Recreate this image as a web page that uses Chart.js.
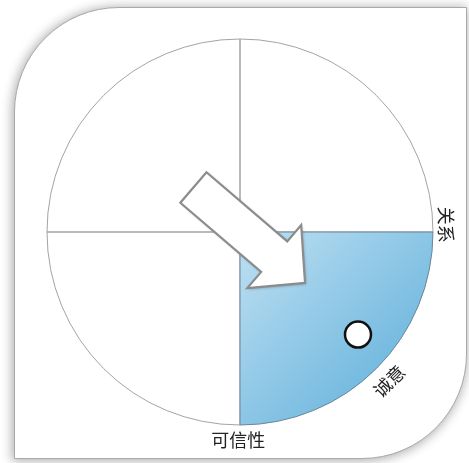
<!DOCTYPE html>
<html lang="zh">
<head>
  <meta charset="UTF-8">
  <title>关系 诚意 可信性</title>
  <script src="https://cdn.jsdelivr.net/npm/chart.js"></script>
  <style>
    body {
      margin: 0;
      background: #ffffff;
      font-family: 'Noto Sans CJK SC', sans-serif;
    }
    .card {
      position: absolute;
      left: 14px;
      top: 7px;
      width: 451px;
      height: 450px;
      background: #fff;
      border: 1px solid #a9a9a9;
      border-radius: 105px 0 105px 0;
      box-shadow: -1px 1px 11px 1px rgba(0, 0, 0, 0.32);
    }
    .wrap {
      position: absolute;
      left: 0;
      top: 0;
      width: 469px;
      height: 463px;
    }
  </style>
</head>
<body>
  <div class="card"></div>
  <div class="wrap"><canvas id="wheel"></canvas></div>

  <script>
    // quadrants, drawn clockwise starting at the bottom (左下, 左上, 右上, 右下)
    const quadrants = ['左下', '左上', '右上', '右下'];
    const quadrantValues = [1, 1, 1, 1];
    const highlighted = 3;

    // labels round the rim: angle in degrees clockwise from 3 o'clock
    const axisLabels = ['关系', '诚意', '可信性'];
    const axisLabelAngles = [-2, 45, 90.5];
    const axisLabelRotations = [90, -45, 0];

    // the white dot
    const markerAngle = 41;
    const markerValue = 0.81;

    const rad = d => d * Math.PI / 180;

    const rimLabels = {
      id: 'rimLabels',
      afterDatasetsDraw(chart) {
        const s = chart.scales.r;
        const ctx = chart.ctx;
        const cx = s.xCenter, cy = s.yCenter;
        const R = s.drawingArea;

        // arrow (tail and tip given in polar value units)
        const at = (a, v) => {
          const d = s.getDistanceFromCenterForValue(v);
          return [cx + d * Math.cos(rad(a)), cy + d * Math.sin(rad(a))];
        };
        const T = at(223.7, 0.334);
        const P = at(38.1, 0.428);
        const len = Math.hypot(P[0] - T[0], P[1] - T[1]);
        const ux = (P[0] - T[0]) / len, uy = (P[1] - T[1]) / len;
        const nx = -uy, ny = ux;
        const sw = R * 0.104, hw = R * 0.215, hl = R * 0.21;
        const N = [P[0] - ux * hl, P[1] - uy * hl];
        const pts = [
          [T[0] + nx * sw, T[1] + ny * sw],
          [N[0] + nx * sw, N[1] + ny * sw],
          [N[0] + nx * hw, N[1] + ny * hw],
          P,
          [N[0] - nx * hw, N[1] - ny * hw],
          [N[0] - nx * sw, N[1] - ny * sw],
          [T[0] - nx * sw, T[1] - ny * sw]
        ];
        ctx.save();
        ctx.beginPath();
        pts.forEach((p, i) => i ? ctx.lineTo(p[0], p[1]) : ctx.moveTo(p[0], p[1]));
        ctx.closePath();
        ctx.shadowColor = 'rgba(0,0,0,0.3)';
        ctx.shadowBlur = 3;
        ctx.shadowOffsetX = 1;
        ctx.shadowOffsetY = 1;
        ctx.fillStyle = '#ffffff';
        ctx.fill();
        ctx.shadowColor = 'transparent';
        ctx.lineWidth = 2.2;
        ctx.lineJoin = 'miter';
        ctx.strokeStyle = '#8c8c8c';
        ctx.stroke();
        ctx.restore();

        // marker
        const m = at(markerAngle, markerValue);
        ctx.save();
        ctx.beginPath();
        ctx.arc(m[0], m[1], 13, 0, Math.PI * 2);
        ctx.fillStyle = '#ffffff';
        ctx.fill();
        ctx.lineWidth = 2.5;
        ctx.strokeStyle = '#111111';
        ctx.stroke();
        ctx.restore();

        // rim labels
        const offsets = [13, 18, 15];
        ctx.save();
        ctx.font = '18px "Noto Sans CJK SC"';
        ctx.fillStyle = '#222222';
        ctx.textAlign = 'center';
        ctx.textBaseline = 'middle';
        axisLabels.forEach((t, i) => {
          const d = R + offsets[i];
          const x = cx + d * Math.cos(rad(axisLabelAngles[i]));
          const y = cy + d * Math.sin(rad(axisLabelAngles[i]));
          ctx.save();
          ctx.translate(x, y);
          ctx.rotate(rad(axisLabelRotations[i]));
          ctx.fillText(t, 0, 0);
          ctx.restore();
        });
        ctx.restore();
      }
    };

    const fillFor = ctx => {
      if (ctx.dataIndex !== highlighted) return 'rgba(255,255,255,0)';
      const s = ctx.chart.scales.r;
      if (!s || !s.drawingArea) return '#9fd0ea';
      const R = s.drawingArea;
      const g = ctx.chart.ctx.createLinearGradient(
        s.xCenter, s.yCenter, s.xCenter + R * 0.72, s.yCenter + R * 0.72);
      g.addColorStop(0, '#bfe0f2');
      g.addColorStop(1, '#74bae0');
      return g;
    };

    new Chart(document.getElementById('wheel'), {
      type: 'polarArea',
      data: {
        labels: quadrants,
        datasets: [{
          data: quadrantValues,
          backgroundColor: fillFor,
          borderColor: quadrantValues.map((v, i) => i === highlighted ? '#6b8598' : '#a3a3a3'),
          borderWidth: 1
        }]
      },
      options: {
        responsive: true,
        maintainAspectRatio: false,
        animation: false,
        layout: {
          padding: { left: 47, right: 36, top: 39, bottom: 38 }
        },
        plugins: {
          legend: { display: false },
          tooltip: { enabled: false }
        },
        scales: {
          r: {
            startAngle: 180,
            min: 0,
            max: 1,
            ticks: { display: false },
            grid: { display: false },
            angleLines: { display: false },
            pointLabels: { display: false }
          }
        }
      },
      plugins: [rimLabels]
    });
  </script>
</body>
</html>
